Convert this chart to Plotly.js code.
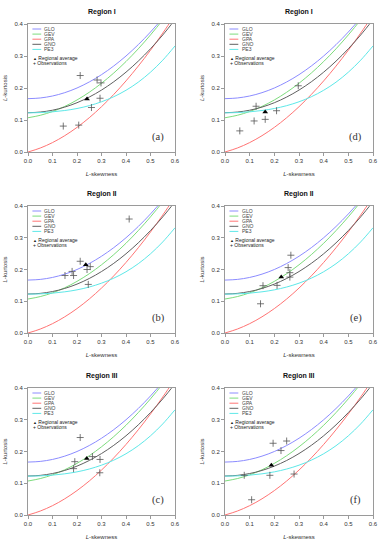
<!DOCTYPE html>
<html>
<head>
<meta charset="utf-8">
<script src="https://cdn.plot.ly/plotly-3.0.1.min.js"></script>
<style>html,body{margin:0;padding:0;background:#fff;}#chart{width:384px;height:550px;}</style>
</head>
<body>
<div id="chart"></div>
<script>
// Theoretical L-moment ratio curves (L-kurtosis at tabulated L-skewness)
const skewGrid = [0, 0.05, 0.1, 0.15, 0.2, 0.25, 0.3, 0.35, 0.4, 0.45, 0.5, 0.55, 0.6];
const kurtGLO = [0.1667, 0.1688, 0.1750, 0.1854, 0.2000, 0.2188, 0.2417, 0.2688, 0.3000, 0.3354, 0.3750, 0.4188, 0.4667];
const kurtGEV = [0.1070, 0.1147, 0.1265, 0.1425, 0.1626, 0.1867, 0.2148, 0.2468, 0.2827, 0.3224, 0.3659, 0.4130, 0.4638];
const kurtGPA = [0.0000, 0.0124, 0.0294, 0.0510, 0.0769, 0.1071, 0.1415, 0.1799, 0.2222, 0.2684, 0.3182, 0.3716, 0.4286];
const kurtGNO = [0.1228, 0.1248, 0.1306, 0.1403, 0.1540, 0.1717, 0.1935, 0.2194, 0.2495, 0.2839, 0.3226, 0.3657, 0.4134];
const kurtPE3 = [0.1224, 0.1232, 0.1255, 0.1297, 0.1359, 0.1448, 0.1569, 0.1727, 0.1929, 0.2182, 0.2494, 0.2869, 0.3314];

const distNames = ['GLO', 'GEV', 'GPA', 'GNO', 'PE3'];
const distKurt = [kurtGLO, kurtGEV, kurtGPA, kurtGNO, kurtPE3];

// Panels a..f
const panelLetters = ['(a)', '(b)', '(c)', '(d)', '(e)', '(f)'];
const panelTitles = ['Region I', 'Region II', 'Region III', 'Region I', 'Region II', 'Region III'];

const obsSkewA = [0.213, 0.282, 0.298, 0.294, 0.259, 0.144, 0.207];
const obsKurtA = [0.239, 0.225, 0.216, 0.168, 0.139, 0.081, 0.084];
const obsSkewB = [0.413, 0.213, 0.180, 0.151, 0.186, 0.241, 0.254, 0.246];
const obsKurtB = [0.359, 0.226, 0.194, 0.181, 0.181, 0.200, 0.209, 0.153];
const obsSkewC = [0.213, 0.191, 0.263, 0.294, 0.186, 0.293];
const obsKurtC = [0.244, 0.168, 0.184, 0.175, 0.146, 0.133];
const obsSkewD = [0.297, 0.126, 0.209, 0.118, 0.163, 0.060];
const obsKurtD = [0.207, 0.143, 0.129, 0.097, 0.102, 0.066];
const obsSkewE = [0.267, 0.256, 0.263, 0.263, 0.154, 0.211, 0.144];
const obsKurtE = [0.245, 0.206, 0.190, 0.176, 0.149, 0.150, 0.092];
const obsSkewF = [0.195, 0.250, 0.227, 0.078, 0.182, 0.280, 0.108];
const obsKurtF = [0.226, 0.233, 0.203, 0.125, 0.125, 0.129, 0.048];

const avgSkew = [0.241, 0.236, 0.240, 0.163, 0.228, 0.188];
const avgKurt = [0.166, 0.215, 0.178, 0.125, 0.176, 0.157];

const obsSkew = [obsSkewA, obsSkewB, obsSkewC, obsSkewD, obsSkewE, obsSkewF];
const obsKurt = [obsKurtA, obsKurtB, obsKurtC, obsKurtD, obsKurtE, obsKurtF];

const xTicks = [0, 0.1, 0.2, 0.3, 0.4, 0.5, 0.6];
const yTicks = [0, 0.1, 0.2, 0.3, 0.4];

// ---- styling / layout ----
const W = 384, H = 550;
const distColors = ['#8c8cff', '#7ddc7d', '#ff7474', '#606060', '#5ee8e8'];
const colPx = [[28, 175], [225, 373]];
const rowPx = [[24, 152], [206, 333], [388, 515]];
const FONT = 'Liberation Sans, Arial, sans-serif';

const traces = [];
const annotations = [];
const shapes = [];
const layout = {
  width: W, height: H,
  margin: {l: 0, r: 0, t: 0, b: 0},
  paper_bgcolor: '#ffffff', plot_bgcolor: '#ffffff',
  showlegend: false,
  font: {family: FONT, size: 6, color: '#333'}
};

for (let i = 0; i < 6; i++) {
  const col = i < 3 ? 0 : 1;
  const row = i % 3;
  const n = i + 1;
  const xa = n === 1 ? 'x' : 'x' + n;
  const ya = n === 1 ? 'y' : 'y' + n;
  const xk = n === 1 ? 'xaxis' : 'xaxis' + n;
  const yk = n === 1 ? 'yaxis' : 'yaxis' + n;
  const px = colPx[col], py = rowPx[row];
  const plotH = py[1] - py[0];

  layout[xk] = {
    domain: [px[0] / W, px[1] / W], anchor: ya,
    range: [0, 0.6], tickvals: xTicks, tickformat: '.1f',
    showline: true, mirror: true, linecolor: '#9a9a9a', linewidth: 1,
    ticks: 'outside', ticklen: 3, tickcolor: '#9a9a9a', tickwidth: 1,
    showgrid: false, zeroline: false, automargin: false,
    tickfont: {family: FONT, size: 6, color: '#333'},
    title: {text: '<i>L</i>-skewness', font: {family: FONT, size: 6, color: '#333'}, standoff: 8}
  };
  layout[yk] = {
    domain: [1 - py[1] / H, 1 - py[0] / H], anchor: xa,
    range: [0, 0.4], tickvals: yTicks, tickformat: '.1f',
    showline: true, mirror: true, linecolor: '#9a9a9a', linewidth: 1,
    ticks: 'outside', ticklen: 3, tickcolor: '#9a9a9a', tickwidth: 1,
    showgrid: false, zeroline: false, automargin: false,
    tickfont: {family: FONT, size: 6, color: '#333'},
    title: {text: '<i>L</i>-kurtosis', font: {family: FONT, size: 6, color: '#333'}, standoff: 6}
  };

  distNames.forEach((name, k) => {
    traces.push({
      type: 'scatter', mode: 'lines', name: name,
      x: skewGrid, y: distKurt[k], xaxis: xa, yaxis: ya,
      line: {color: distColors[k], width: 1, shape: 'spline', smoothing: 1},
      hoverinfo: 'skip'
    });
  });
  traces.push({
    type: 'scatter', mode: 'markers', name: 'Observations',
    x: obsSkew[i], y: obsKurt[i], xaxis: xa, yaxis: ya,
    marker: {symbol: 'cross-thin', size: 5, line: {color: '#555', width: 0.8}, color: '#555'}
  });
  traces.push({
    type: 'scatter', mode: 'markers', name: 'Regional average',
    x: [avgSkew[i]], y: [avgKurt[i]], xaxis: xa, yaxis: ya,
    marker: {symbol: 'triangle-up', size: 5, color: '#000'}
  });

  // region title
  annotations.push({
    xref: 'paper', yref: 'paper', x: (px[0] + px[1]) / 2 / W, y: 1 - (py[0] - 12) / H,
    text: '<b>' + panelTitles[i] + '</b>', showarrow: false,
    xanchor: 'center', yanchor: 'middle', font: {family: FONT, size: 7, color: '#111'}
  });
  // panel letter
  annotations.push({
    xref: xa + ' domain', yref: ya + ' domain', x: 0.885, y: 0.115,
    text: panelLetters[i], showarrow: false, xanchor: 'center', yanchor: 'middle',
    font: {family: 'Liberation Serif, Times New Roman, serif', size: 10.5, color: '#333'}
  });
  // legend
  const lineX0 = 0.03, lineX1 = 0.09, textX = 0.105;
  distNames.forEach((name, k) => {
    const yy = 1 - (5.0 + 5.1 * k) / plotH;
    shapes.push({
      type: 'line', xref: xa + ' domain', yref: ya + ' domain',
      x0: lineX0, x1: lineX1, y0: yy, y1: yy,
      line: {color: distColors[k], width: 1}
    });
    annotations.push({
      xref: xa + ' domain', yref: ya + ' domain', x: textX, y: yy,
      text: name, showarrow: false, xanchor: 'left', yanchor: 'middle', borderpad: 0,
      font: {family: FONT, size: 5, color: '#444'}
    });
  });
  annotations.push({
    xref: xa + ' domain', yref: ya + ' domain', x: 0.025, y: 1 - 33.6 / plotH,
    text: '<span style="font-size:4px">▲</span> Regional average', showarrow: false, borderpad: 0,
    xanchor: 'left', yanchor: 'middle', font: {family: FONT, size: 5, color: '#222'}
  });
  annotations.push({
    xref: xa + ' domain', yref: ya + ' domain', x: 0.025, y: 1 - 39.0 / plotH,
    text: '+ Observations', showarrow: false, borderpad: 0,
    xanchor: 'left', yanchor: 'middle', font: {family: FONT, size: 5, color: '#222'}
  });
}

layout.annotations = annotations;
layout.shapes = shapes;

Plotly.newPlot('chart', traces, layout, {staticPlot: true, displayModeBar: false});
</script>
</body>
</html>
